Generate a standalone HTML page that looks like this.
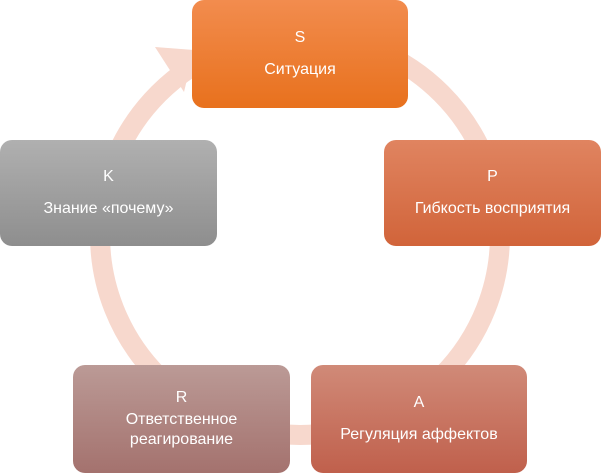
<!DOCTYPE html>
<html><head><meta charset="utf-8"><style>
body{margin:0;width:601px;height:473px;background:#fff;position:relative;overflow:hidden;font-family:"Liberation Sans","Noto Sans CJK SC",sans-serif}
.b{position:absolute;border-radius:12px;color:#fff;font-size:16px;text-align:center;display:flex;flex-direction:column;justify-content:center;align-items:center;line-height:20px}
.b .l{margin-bottom:12px}
</style></head><body>
<svg width="601" height="473" style="position:absolute;left:0;top:0">
<circle cx="300" cy="235" r="200" fill="none" stroke="#f7d8cd" stroke-width="20"/>
<polygon points="155,47 194,50 184,92" fill="#f7d8cd"/>
</svg>
<div class="b" style="left:192px;top:0;width:216px;height:108px;background:linear-gradient(#f28c4e,#e8711d)"><div class="l">S</div><div>Ситуация</div></div>
<div class="b" style="left:384px;top:140px;width:217px;height:106px;background:linear-gradient(#e08460,#d1643a)"><div class="l">P</div><div>Гибкость восприятия</div></div>
<div class="b" style="left:311px;top:365px;width:216px;height:108px;background:linear-gradient(#d08a78,#c0604c)"><div class="l">A</div><div>Регуляция аффектов</div></div>
<div class="b" style="left:73px;top:365px;width:217px;height:108px;background:linear-gradient(#bb9a96,#a4726e)"><div style="margin-bottom:2px">R</div><div>Ответственное<br>реагирование</div></div>
<div class="b" style="left:0;top:140px;width:217px;height:106px;background:linear-gradient(#b0b0b0,#8e8e8e)"><div class="l">K</div><div>Знание «почему»</div></div>
</body></html>
